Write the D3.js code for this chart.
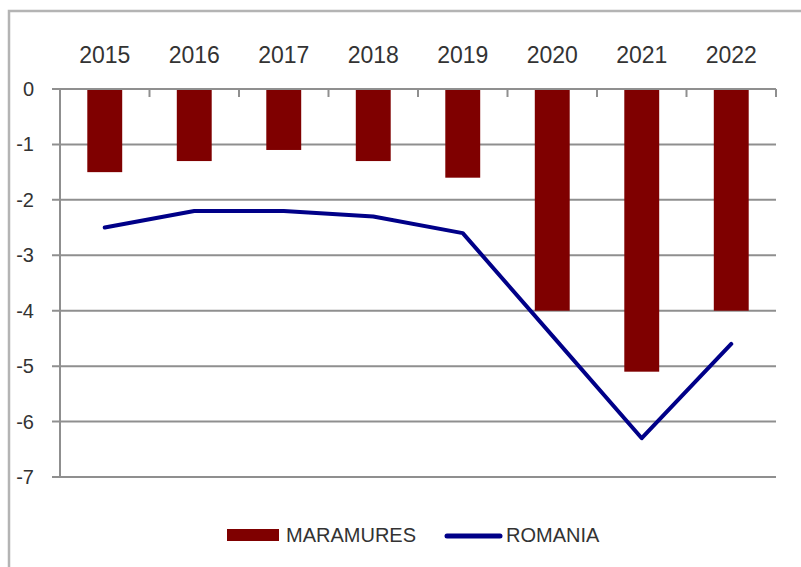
<!DOCTYPE html>
<html>
<head>
<meta charset="utf-8">
<script src="https://cdn.jsdelivr.net/npm/d3@7"></script>
<style>
  body { margin: 0; background: #fff; }
  svg { display: block; font-family: "Liberation Sans", Arial, sans-serif; }
  .lbl { fill: #333; }
</style>
</head>
<body>
<div id="chart"></div>
<script>
// data
var years = ["2015", "2016", "2017", "2018", "2019", "2020", "2021", "2022"];
var maramures = [-1.5, -1.3, -1.1, -1.3, -1.6, -4.0, -5.1, -4.0];
var romania = [-2.5, -2.2, -2.2, -2.3, -2.6, -4.45, -6.3, -4.6];
var yTicks = [0, -1, -2, -3, -4, -5, -6, -7];
var seriesNames = ["MARAMURES", "ROMANIA"];

var w = 801, h = 567;
var plotLeft = 60, plotRight = 776, plotTop = 89, plotBottom = 477;

var svg = d3.select("#chart").append("svg")
  .attr("width", w)
  .attr("height", h);

// outer frame (cut off on the right and bottom)
svg.append("rect")
  .attr("x", 9).attr("y", 11)
  .attr("width", w + 10).attr("height", h + 10)
  .attr("fill", "none")
  .attr("stroke", "#b4b4b4")
  .attr("stroke-width", 2.5);

var x = d3.scaleBand()
  .domain(years)
  .range([plotLeft, plotRight])
  .paddingInner(0.61)
  .paddingOuter(0.305);

var y = d3.scaleLinear()
  .domain([-7, 0])
  .range([plotBottom, plotTop]);

// horizontal gridlines
svg.append("g")
  .selectAll("line")
  .data(yTicks)
  .enter().append("line")
  .attr("x1", plotLeft - 8)
  .attr("x2", plotRight)
  .attr("y1", function(d) { return y(d); })
  .attr("y2", function(d) { return y(d); })
  .attr("stroke", "#8f8f8f")
  .attr("stroke-width", 2);

// y axis line
svg.append("line")
  .attr("x1", plotLeft).attr("x2", plotLeft)
  .attr("y1", plotTop).attr("y2", plotBottom)
  .attr("stroke", "#8f8f8f")
  .attr("stroke-width", 2);

// y labels
svg.append("g")
  .selectAll("text")
  .data(yTicks)
  .enter().append("text")
  .attr("class", "lbl")
  .attr("x", 34)
  .attr("y", function(d) { return y(d); })
  .attr("dy", "0.35em")
  .attr("text-anchor", "end")
  .style("font-size", "20px")
  .text(function(d) { return d; });

// bars
svg.append("g")
  .selectAll("rect")
  .data(maramures)
  .enter().append("rect")
  .attr("x", function(d, i) { return x(years[i]); })
  .attr("y", y(0))
  .attr("width", x.bandwidth())
  .attr("height", function(d) { return y(d) - y(0); })
  .attr("fill", "#7f0000");

// category axis along the zero line, ticks pointing down
var step = x.step();
var bounds = d3.range(years.length + 1).map(function(i) { return plotLeft + i * step; });
svg.append("g")
  .selectAll("line")
  .data(bounds)
  .enter().append("line")
  .attr("x1", function(d) { return d; })
  .attr("x2", function(d) { return d; })
  .attr("y1", y(0))
  .attr("y2", y(0) + 8)
  .attr("stroke", "#8f8f8f")
  .attr("stroke-width", 2);

svg.append("line")
  .attr("x1", plotLeft).attr("x2", plotRight)
  .attr("y1", y(0)).attr("y2", y(0))
  .attr("stroke", "#8f8f8f")
  .attr("stroke-width", 2);

// year labels on top
svg.append("g")
  .selectAll("text")
  .data(years)
  .enter().append("text")
  .attr("class", "lbl")
  .attr("x", function(d) { return x(d) + x.bandwidth() / 2; })
  .attr("y", 63)
  .attr("text-anchor", "middle")
  .style("font-size", "23px")
  .text(function(d) { return d; });

// romania line
var line = d3.line()
  .x(function(d, i) { return x(years[i]) + x.bandwidth() / 2; })
  .y(function(d) { return y(d); });

svg.append("path")
  .datum(romania)
  .attr("d", line)
  .attr("fill", "none")
  .attr("stroke", "#000088")
  .attr("stroke-width", 4)
  .attr("stroke-linejoin", "round")
  .attr("stroke-linecap", "round");

// legend
var legend = svg.append("g");
legend.append("rect")
  .attr("x", 227).attr("y", 529)
  .attr("width", 52).attr("height", 12)
  .attr("fill", "#7f0000");
legend.append("text")
  .attr("class", "lbl")
  .attr("x", 286).attr("y", 542)
  .style("font-size", "20px")
  .text(seriesNames[0]);
legend.append("line")
  .attr("x1", 447).attr("x2", 500)
  .attr("y1", 536).attr("y2", 536)
  .attr("stroke", "#000088")
  .attr("stroke-width", 5)
  .attr("stroke-linecap", "round");
legend.append("text")
  .attr("class", "lbl")
  .attr("x", 506).attr("y", 542)
  .style("font-size", "20px")
  .text(seriesNames[1]);
</script>
</body>
</html>
